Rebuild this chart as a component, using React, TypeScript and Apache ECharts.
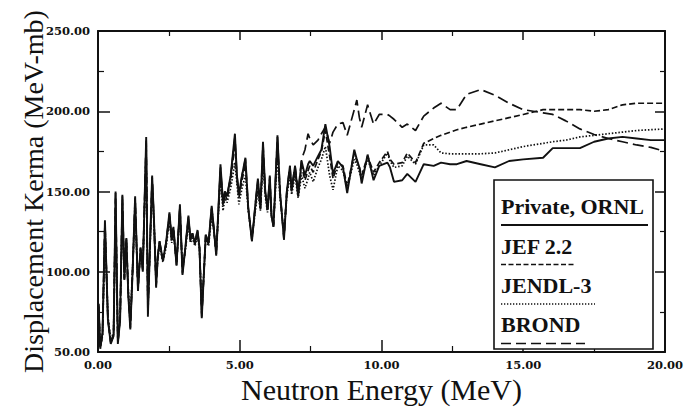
import React, { useEffect, useRef } from "react";
import * as echarts from "echarts";

// Neutron energy grid (MeV) shared by the four evaluations
const energy = [
  0.02, 0.08, 0.16, 0.245, 0.35, 0.45, 0.55, 0.62, 0.7, 0.78,
  0.86, 0.93, 1.0, 1.07, 1.14, 1.22, 1.31, 1.41, 1.5, 1.58,
  1.7, 1.76, 1.84, 1.91, 1.98, 2.05, 2.11, 2.17, 2.29, 2.4,
  2.52, 2.6, 2.66, 2.77, 2.89, 2.98, 3.08, 3.19, 3.26, 3.33,
  3.42, 3.51, 3.58, 3.66, 3.8, 3.9, 4.01, 4.08, 4.17, 4.32,
  4.41, 4.48, 4.55, 4.68, 4.83, 4.9, 4.97, 5.08, 5.2, 5.3,
  5.43, 5.55, 5.64, 5.73, 5.82, 5.9, 5.98, 6.06, 6.12, 6.19,
  6.33, 6.42, 6.56, 6.66, 6.77, 6.83, 6.95, 7.06, 7.18, 7.3,
  7.41, 7.47, 7.59, 7.76, 7.88, 8.02, 8.17, 8.29, 8.46, 8.64,
  8.79, 9.04, 9.13, 9.22, 9.3, 9.51, 9.72, 9.92, 10.21, 10.3,
  10.44, 10.73, 10.91, 11.2, 11.49, 11.84, 12.1, 12.42, 12.66, 13.0,
  13.5, 14.0, 14.5, 15.0, 15.7, 16.04, 16.5, 17.0, 17.5, 18.0,
  18.5, 19.0, 19.5, 20.0,
];

// Displacement kerma (MeV-mb)
const privateOrnl = [
  80, 52, 62, 132, 70, 55, 60, 150, 55, 70,
  148, 95, 121, 85, 64, 100, 147, 88, 115, 100,
  184, 72, 120, 160, 130, 90, 110, 119, 107, 118,
  137, 120, 128, 104, 142, 98, 115, 135, 120, 124,
  118, 126, 115, 71, 123, 118, 141, 128, 110, 167,
  143, 150, 147, 160, 186, 160, 148, 160, 171, 140,
  119, 142, 158, 140, 181, 150, 139, 160, 135, 128,
  185, 150, 120, 150, 166, 151, 166, 147, 169, 160,
  167, 169, 166, 172, 176, 192, 178, 161, 169, 165,
  149, 176, 170, 165, 155, 173, 157, 166, 168, 165,
  156, 157, 161, 156, 167, 166, 168, 167, 167, 169,
  167, 165, 169, 170, 171, 177, 177, 177, 181, 183,
  184, 183, 182, 182,
];

const jef22 = [
  79, 53, 61, 130, 71, 56, 61, 146, 56, 71,
  145, 96, 120, 86, 66, 101, 144, 90, 114, 102,
  180, 75, 119, 157, 129, 92, 109, 118, 107, 117,
  135, 119, 126, 105, 140, 100, 114, 133, 119, 123,
  117, 124, 115, 73, 122, 117, 139, 127, 111, 163,
  141, 148, 145, 157, 180, 158, 146, 157, 167, 139,
  120, 140, 155, 139, 176, 149, 138, 157, 135, 129,
  180, 148, 122, 149, 164, 150, 164, 148, 166, 157,
  163, 166, 162, 170, 175, 188, 172, 158, 168, 166,
  153, 174, 169, 165, 160, 172, 162, 168, 175, 170,
  167, 168, 174, 168, 180, 183, 185, 187, 188.5, 190,
  192, 194, 196, 198, 201, 201, 201, 201, 200, 201,
  204, 205, 205, 205,
];

const jendl3 = [
  78, 54, 60, 125, 72, 58, 62, 140, 58, 72,
  140, 98, 118, 88, 70, 102, 138, 92, 112, 104,
  172, 80, 118, 152, 128, 96, 108, 116, 106, 115,
  132, 118, 124, 106, 136, 102, 113, 130, 118, 121,
  116, 122, 114, 76, 120, 116, 135, 126, 113, 158,
  138, 146, 143, 152, 168, 155, 142, 152, 160, 138,
  121, 138, 150, 138, 168, 147, 137, 152, 134, 130,
  172, 146, 124, 147, 160, 148, 160, 146, 160, 152,
  158, 162, 156, 165, 170, 178, 160, 151, 166, 163,
  152, 170, 167, 162, 158, 170, 160, 166, 174, 169,
  165, 166, 172, 167, 179, 179, 174, 173.5, 173.5, 173.5,
  173.5, 174, 176, 178, 180, 181, 182, 184, 185, 186,
  187, 188, 188.5, 189,
];

const brond = [
  80, 52, 62, 131, 70, 56, 60, 149, 56, 70,
  147, 95, 121, 85, 65, 100, 146, 88, 115, 101,
  183, 73, 120, 159, 130, 91, 110, 119, 107, 118,
  136, 120, 128, 104, 141, 99, 115, 134, 120, 124,
  118, 126, 115, 72, 123, 118, 140, 128, 111, 165,
  143, 150, 147, 159, 184, 160, 148, 160, 170, 140,
  119, 142, 157, 140, 180, 150, 139, 159, 135, 128,
  184, 150, 120, 150, 166, 151, 166, 150, 170, 176,
  186, 183, 179, 182, 186, 190, 180, 187, 192, 193,
  185, 201, 207, 196, 190, 204, 192, 198, 198, 197,
  195, 190, 192, 188, 197, 202, 205, 201, 201, 210.5,
  213.5, 210, 205, 201, 199, 198, 194, 189, 185.5, 183,
  181, 179, 177.5, 175,
];

const seriesNames = ["Private, ORNL", "JEF 2.2", "JENDL-3", "BROND"];
const xTitle = "Neutron Energy (MeV)";
const yTitle = "Displacement Kerma (MeV-mb)";

const INK = "#111";
const SERIF = "Liberation Serif";
const TICK_FONT = "DejaVu Serif";

export default function App() {
  const ref = useRef<HTMLDivElement>(null);

  useEffect(() => {
    const chart = echarts.init(ref.current!, null, { renderer: "svg" });
    const pair = (vals: number[]) => energy.map((e, i) => [e, vals[i]]);

    const frameLine = { show: true, onZero: false, lineStyle: { color: INK, width: 2 } };
    const majorTick = (len: number) => ({
      show: true,
      inside: true,
      length: len,
      lineStyle: { color: INK, width: 1.5 },
    });
    const minorTick = (len: number) => ({
      show: true,
      splitNumber: 2,
      length: len,
      lineStyle: { color: INK, width: 1.2 },
    });
    const tickLabel = {
      color: INK,
      fontFamily: TICK_FONT,
      fontWeight: "bold" as const,
      fontSize: 11.5,
      formatter: (v: number) => v.toFixed(2),
    };

    const lineSeries = (name: string, vals: number[], type: any, width: number, z: number) => ({
      name,
      type: "line",
      data: pair(vals),
      showSymbol: false,
      symbol: "none",
      z,
      lineStyle: { color: INK, width, type },
    });

    const legendX = 501;
    const legendRows = [
      { label: seriesNames[0], y: 206.5, lineY: 225, lineEnd: 648, dash: null as number[] | null, w: 2 },
      { label: seriesNames[1], y: 246, lineY: 264.5, lineEnd: 575, dash: [5, 2.5], w: 1.4 },
      { label: seriesNames[2], y: 285.5, lineY: 304, lineEnd: 595, dash: [1.3, 1.7], w: 1.4 },
      { label: seriesNames[3], y: 324.5, lineY: 343.5, lineEnd: 585, dash: [10, 5], w: 1.6 },
    ];

    const graphic: any[] = [
      {
        type: "rect",
        z: 100,
        shape: { x: 494, y: 180, width: 159, height: 169 },
        style: { fill: "#fff", stroke: INK, lineWidth: 1.6 },
      },
    ];
    legendRows.forEach((r) => {
      graphic.push({
        type: "text",
        z: 101,
        x: legendX,
        y: r.y,
        style: {
          text: r.label,
          fill: INK,
          fontFamily: SERIF,
          fontSize: 22,
          fontWeight: "bold",
          align: "left",
          verticalAlign: "middle",
        },
      });
      graphic.push({
        type: "line",
        z: 101,
        shape: { x1: legendX, y1: r.lineY, x2: r.lineEnd, y2: r.lineY },
        style: { stroke: INK, lineWidth: r.w, lineDash: r.dash || undefined },
      });
    });

    chart.setOption({
      animation: false,
      backgroundColor: "#fff",
      grid: { left: 98, right: 16, top: 31, bottom: 54, containLabel: false },
      xAxis: [
        {
          type: "value",
          min: 0,
          max: 20,
          interval: 5,
          position: "bottom",
          name: xTitle,
          nameLocation: "middle",
          nameGap: 22,
          nameMoveOverlap: false,
          nameTextStyle: { color: INK, fontFamily: SERIF, fontSize: 30, fontWeight: "normal" },
          axisLine: frameLine,
          axisTick: majorTick(12),
          minorTick: minorTick(6),
          splitLine: { show: false },
          axisLabel: { ...tickLabel, margin: 7 },
        },
        {
          type: "value",
          min: 0,
          max: 20,
          interval: 5,
          position: "top",
          axisLine: frameLine,
          axisTick: majorTick(9),
          minorTick: minorTick(5),
          splitLine: { show: false },
          axisLabel: { show: false },
        },
      ],
      yAxis: [
        {
          type: "value",
          min: 50,
          max: 250,
          interval: 50,
          position: "left",
          name: yTitle,
          nameLocation: "middle",
          nameGap: 51,
          nameMoveOverlap: false,
          nameTextStyle: { color: INK, fontFamily: SERIF, fontSize: 28, fontWeight: "normal" },
          axisLine: frameLine,
          axisTick: majorTick(12),
          minorTick: minorTick(6),
          splitLine: { show: false },
          axisLabel: { ...tickLabel, margin: 8 },
        },
        {
          type: "value",
          min: 50,
          max: 250,
          interval: 50,
          position: "right",
          axisLine: frameLine,
          axisTick: majorTick(10),
          minorTick: minorTick(5),
          splitLine: { show: false },
          axisLabel: { show: false },
        },
      ],
      series: [
        lineSeries(seriesNames[3], brond, [11, 5], 1.7, 2),
        lineSeries(seriesNames[1], jef22, [6, 3], 1.7, 3),
        lineSeries(seriesNames[2], jendl3, [1.5, 1.8], 1.7, 4),
        lineSeries(seriesNames[0], privateOrnl, "solid", 1.9, 5),
      ],
      graphic,
    });

    return () => chart.dispose();
  }, []);

  return (
    <div
      ref={ref}
      style={{ position: "fixed", left: 0, top: 0, width: 686, height: 409, background: "#fff" }}
    />
  );
}
